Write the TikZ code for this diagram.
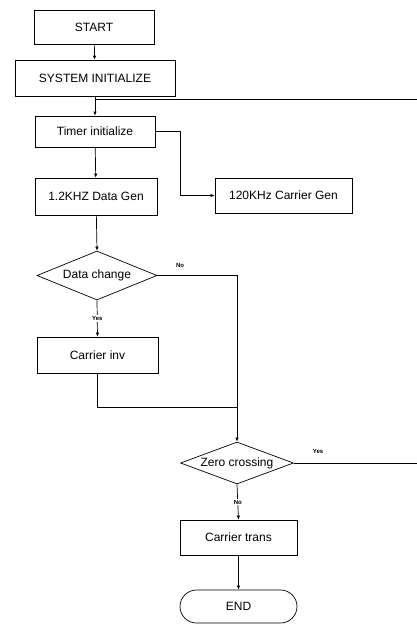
\documentclass[tikz,border=0pt]{standalone}
\usepackage{fontspec}
\setmainfont{Liberation Sans}
\usetikzlibrary{shapes.geometric,shapes.misc,arrows.meta}

\begin{document}
\begin{tikzpicture}[x=1pt,y=1pt,
  box/.style={draw,line width=0.7pt,inner sep=0pt,font=\fontsize{12}{14}\selectfont},
  decision/.style={box,diamond,aspect=2.5},
  flow/.style={line width=0.7pt,-{Latex[length=4pt,width=3.5pt]}},
  link/.style={line width=0.7pt},
  tag/.style={font=\fontsize{6}{7}\selectfont\bfseries,inner sep=1pt}]
\useasboundingbox (0,0) rectangle (417,-625);
% main column
\node[box,minimum width=120pt,minimum height=34pt] (start) at (94,-27) {START};
\node[box,minimum width=160pt,minimum height=36pt] (init) at (95,-78) {SYSTEM INITIALIZE};
\node[box,minimum width=120pt,minimum height=31pt] (timer) at (95,-131.5) {Timer initialize};
\node[box,minimum width=122pt,minimum height=37pt] (datagen) at (96,-196.5) {1.2KHZ Data Gen};
\node[box,minimum width=137pt,minimum height=35pt] (carrier) at (283.5,-195.5) {120KHz Carrier Gen};
\node[decision,minimum width=120pt,minimum height=49pt] (change) at (97,-275.5) {Data change};
\node[box,minimum width=121pt,minimum height=36pt] (inv) at (97.5,-355) {Carrier inv};
\node[decision,minimum width=113pt,minimum height=42pt] (zero) at (237,-463) {Zero crossing};
\node[box,minimum width=117pt,minimum height=35pt] (trans) at (238.5,-537.5) {Carrier trans};
\node[box,rounded rectangle,minimum width=117pt,minimum height=33pt] (end) at (238.5,-606.5) {END};
% loop ends
\coordinate (back) at (95,-99);
\coordinate (backR) at (417,-99);
\coordinate (merge) at (237,-407);
\coordinate (exitR) at (417,-463);
% connectors
\draw[flow] (start) -- (init);
\draw[flow] (init) -- (timer);
\draw[link] (backR) -- (back);
\draw[flow] (timer.east) -- ++(25,0) |- (carrier.west);
\draw[flow] (timer) -- (datagen);
\draw[flow] (datagen) -- (change.north);
\draw[flow] (change.south) -- node[tag,fill=white] {Yes} (inv.north);
\draw[flow] (change.east) -| (zero.north);
\node[tag] (nochange) at (180,-265) {No};
\draw[link] (inv.south) |- (merge);
\draw[link] (zero.east) -- (exitR);
\node[tag] (yeszero) at (318,-451) {Yes};
\draw[flow] (zero.south) -- node[tag,fill=white] {No} (trans.north);
\draw[flow] (trans) -- (end);
\end{tikzpicture}
\end{document}
